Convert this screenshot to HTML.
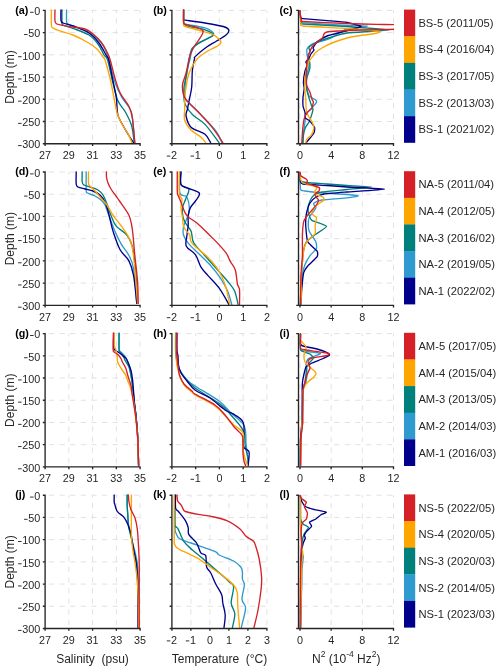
<!DOCTYPE html><html><head><meta charset="utf-8"><style>html,body{margin:0;padding:0;background:#fff;width:500px;height:671px;overflow:hidden}svg{display:block;will-change:transform}</style></head><body>
<svg width="500" height="671" viewBox="0 0 500 671" style="font-family:'Liberation Sans', sans-serif">
<path d="M68.85,143.70V10.40 M92.60,143.70V10.40 M116.35,143.70V10.40 M140.10,143.70V10.40" stroke="#e2e2e2" stroke-width="1" stroke-dasharray="5.3,5.3" stroke-dashoffset="7.1" fill="none"/>
<path d="M45.10,10.40H140.10 M45.10,32.62H140.10 M45.10,54.83H140.10 M45.10,77.05H140.10 M45.10,99.27H140.10 M45.10,121.48H140.10" stroke="#e2e2e2" stroke-width="1" stroke-dasharray="5.3,5.3" stroke-dashoffset="6.8" fill="none"/>
<clipPath id="cpa"><rect x="45.10" y="9.40" width="95.50" height="134.30"/></clipPath><g clip-path="url(#cpa)">
<path d="M66.60,9.00 C66.60,11.00 66.37,18.50 66.60,21.00 C66.83,23.50 65.93,22.83 68.00,24.00 C70.07,25.17 75.17,26.33 79.00,28.00 C82.83,29.67 87.00,31.17 91.00,34.00 C95.00,36.83 100.03,40.67 103.00,45.00 C105.97,49.33 106.77,53.70 108.80,60.00 C110.83,66.30 113.07,76.67 115.20,82.80 C117.33,88.93 119.48,93.00 121.60,96.80 C123.72,100.60 126.22,102.87 127.90,105.60 C129.58,108.33 130.75,109.17 131.70,113.20 C132.65,117.23 133.08,124.90 133.60,129.80 C134.12,134.70 134.60,140.47 134.80,142.60" stroke="#2E9AD0" stroke-width="1.35" fill="none" stroke-linejoin="round" stroke-linecap="round"/>
<path d="M62.00,9.00 C62.00,11.00 61.83,18.33 62.00,21.00 C62.17,23.67 61.17,23.77 63.00,25.00 C64.83,26.23 68.67,26.73 73.00,28.40 C77.33,30.07 84.83,32.40 89.00,35.00 C93.17,37.60 95.50,40.67 98.00,44.00 C100.50,47.33 102.40,52.33 104.00,55.00 C105.60,57.67 106.17,55.57 107.60,60.00 C109.03,64.43 110.90,74.83 112.60,81.60 C114.30,88.37 115.67,95.53 117.80,100.60 C119.93,105.67 123.08,107.77 125.40,112.00 C127.72,116.23 130.23,120.90 131.70,126.00 C133.17,131.10 133.78,139.83 134.20,142.60" stroke="#00807C" stroke-width="1.35" fill="none" stroke-linejoin="round" stroke-linecap="round"/>
<path d="M61.00,9.00 C61.00,10.83 60.67,17.67 61.00,20.00 C61.33,22.33 61.00,22.00 63.00,23.00 C65.00,24.00 68.67,24.33 73.00,26.00 C77.33,27.67 84.67,30.17 89.00,33.00 C93.33,35.83 96.17,39.33 99.00,43.00 C101.83,46.67 104.37,52.17 106.00,55.00 C107.63,57.83 107.70,56.00 108.80,60.00 C109.90,64.00 111.33,72.67 112.60,79.00 C113.87,85.33 115.53,92.07 116.40,98.00 C117.27,103.93 116.53,109.73 117.80,114.60 C119.07,119.47 122.10,123.63 124.00,127.20 C125.90,130.77 127.63,133.43 129.20,136.00 C130.77,138.57 132.70,141.50 133.40,142.60" stroke="#00008C" stroke-width="1.35" fill="none" stroke-linejoin="round" stroke-linecap="round"/>
<path d="M51.40,9.00 C51.40,11.67 51.13,21.83 51.40,25.00 C51.67,28.17 51.73,27.07 53.00,28.00 C54.27,28.93 55.67,29.43 59.00,30.60 C62.33,31.77 68.33,33.10 73.00,35.00 C77.67,36.90 83.00,39.67 87.00,42.00 C91.00,44.33 94.33,46.50 97.00,49.00 C99.67,51.50 101.67,55.17 103.00,57.00 C104.33,58.83 103.80,56.33 105.00,60.00 C106.20,63.67 108.70,72.67 110.20,79.00 C111.70,85.33 112.85,92.30 114.00,98.00 C115.15,103.70 115.85,108.97 117.12,113.20 C118.39,117.43 119.80,120.00 121.60,123.40 C123.40,126.80 126.17,130.40 127.90,133.60 C129.63,136.80 131.32,141.10 132.00,142.60" stroke="#FFA500" stroke-width="1.35" fill="none" stroke-linejoin="round" stroke-linecap="round"/>
<path d="M55.00,9.00 C55.00,11.00 54.67,18.50 55.00,21.00 C55.33,23.50 55.67,23.27 57.00,24.00 C58.33,24.73 60.33,24.90 63.00,25.40 C65.67,25.90 69.33,26.40 73.00,27.00 C76.67,27.60 81.67,27.83 85.00,29.00 C88.33,30.17 90.33,31.83 93.00,34.00 C95.67,36.17 98.67,39.00 101.00,42.00 C103.33,45.00 105.47,49.00 107.00,52.00 C108.53,55.00 108.83,55.50 110.20,60.00 C111.57,64.50 113.53,73.50 115.20,79.00 C116.87,84.50 117.87,88.33 120.20,93.00 C122.53,97.67 127.17,102.77 129.20,107.00 C131.23,111.23 131.47,112.47 132.40,118.40 C133.33,124.33 134.40,138.57 134.80,142.60" stroke="#D62027" stroke-width="1.35" fill="none" stroke-linejoin="round" stroke-linecap="round"/>
</g>
<path d="M45.10,10.40V143.70H140.10 M45.10,143.70V145.30 M68.85,143.70V145.30 M92.60,143.70V145.30 M116.35,143.70V145.30 M140.10,143.70V145.30 M43.50,10.40H45.10 M43.50,32.62H45.10 M43.50,54.83H45.10 M43.50,77.05H45.10 M43.50,99.27H45.10 M43.50,121.48H45.10 M43.50,143.70H45.10" stroke="#262626" stroke-width="1.35" fill="none" stroke-linecap="square"/>
<text x="45.10" y="158.90" font-size="10.8" fill="#262626" text-anchor="middle">27</text>
<text x="68.85" y="158.90" font-size="10.8" fill="#262626" text-anchor="middle">29</text>
<text x="92.60" y="158.90" font-size="10.8" fill="#262626" text-anchor="middle">31</text>
<text x="116.35" y="158.90" font-size="10.8" fill="#262626" text-anchor="middle">33</text>
<text x="140.10" y="158.90" font-size="10.8" fill="#262626" text-anchor="middle">35</text>
<text x="40.30" y="15.10" font-size="10.8" fill="#262626" text-anchor="end">0</text>
<path d="M30.10,12.30H33.60" stroke="#262626" stroke-width="0.95"/>
<text x="40.30" y="37.32" font-size="10.8" fill="#262626" text-anchor="end">50</text>
<path d="M24.09,34.52H27.59" stroke="#262626" stroke-width="0.95"/>
<text x="40.30" y="59.53" font-size="10.8" fill="#262626" text-anchor="end">100</text>
<path d="M18.09,56.73H21.59" stroke="#262626" stroke-width="0.95"/>
<text x="40.30" y="81.75" font-size="10.8" fill="#262626" text-anchor="end">150</text>
<path d="M18.09,78.95H21.59" stroke="#262626" stroke-width="0.95"/>
<text x="40.30" y="103.97" font-size="10.8" fill="#262626" text-anchor="end">200</text>
<path d="M18.09,101.17H21.59" stroke="#262626" stroke-width="0.95"/>
<text x="40.30" y="126.18" font-size="10.8" fill="#262626" text-anchor="end">250</text>
<path d="M18.09,123.38H21.59" stroke="#262626" stroke-width="0.95"/>
<text x="40.30" y="148.40" font-size="10.8" fill="#262626" text-anchor="end">300</text>
<path d="M18.09,145.60H21.59" stroke="#262626" stroke-width="0.95"/>
<text transform="translate(15.20 13.55) scale(0.914 1)" font-size="11.75" font-weight="bold" fill="#000">(a)</text>
<path d="M195.65,143.70V10.40 M219.40,143.70V10.40 M243.15,143.70V10.40 M266.90,143.70V10.40" stroke="#e2e2e2" stroke-width="1" stroke-dasharray="5.3,5.3" stroke-dashoffset="7.1" fill="none"/>
<path d="M171.90,10.40H266.90 M171.90,32.62H266.90 M171.90,54.83H266.90 M171.90,77.05H266.90 M171.90,99.27H266.90 M171.90,121.48H266.90" stroke="#e2e2e2" stroke-width="1" stroke-dasharray="5.3,5.3" stroke-dashoffset="6.8" fill="none"/>
<clipPath id="cpb"><rect x="171.90" y="9.40" width="95.50" height="134.30"/></clipPath><g clip-path="url(#cpb)">
<path d="M183.60,9.00 C183.60,11.13 183.47,19.40 183.60,21.80 C183.73,24.20 183.87,22.97 184.40,23.40 C184.93,23.83 183.37,23.65 186.80,24.40 C190.23,25.15 200.80,26.73 205.00,27.90 C209.20,29.07 210.60,30.23 212.00,31.40 C213.40,32.57 214.10,33.73 213.40,34.90 C212.70,36.07 210.37,37.00 207.80,38.40 C205.23,39.80 200.57,41.43 198.00,43.30 C195.43,45.17 193.73,46.98 192.40,49.60 C191.07,52.22 190.93,55.10 190.00,59.00 C189.07,62.90 187.68,66.70 186.80,73.00 C185.92,79.30 184.47,91.97 184.70,96.80 C184.93,101.63 185.52,99.03 188.20,102.00 C190.88,104.97 196.13,109.70 200.80,114.60 C205.47,119.50 212.70,126.73 216.20,131.40 C219.70,136.07 220.87,140.73 221.80,142.60" stroke="#2E9AD0" stroke-width="1.35" fill="none" stroke-linejoin="round" stroke-linecap="round"/>
<path d="M183.60,9.00 C183.60,11.20 183.47,19.67 183.60,22.20 C183.73,24.73 183.63,23.48 184.40,24.20 C185.17,24.92 185.00,25.65 188.20,26.50 C191.40,27.35 199.52,28.13 203.60,29.30 C207.68,30.47 211.30,32.33 212.70,33.50 C214.10,34.67 213.28,35.25 212.00,36.30 C210.72,37.35 207.57,38.40 205.00,39.80 C202.43,41.20 198.93,42.83 196.60,44.70 C194.27,46.57 192.63,46.28 191.00,51.00 C189.37,55.72 187.97,67.00 186.80,73.00 C185.63,79.00 184.47,82.80 184.00,87.00 C183.53,91.20 183.77,95.23 184.00,98.20 C184.23,101.17 184.00,102.07 185.40,104.80 C186.80,107.53 189.13,111.33 192.40,114.60 C195.67,117.87 200.57,119.73 205.00,124.40 C209.43,129.07 216.67,139.57 219.00,142.60" stroke="#00807C" stroke-width="1.35" fill="none" stroke-linejoin="round" stroke-linecap="round"/>
<path d="M183.60,9.00 C183.60,10.67 183.53,17.17 183.60,19.00 C183.67,20.83 183.70,19.80 184.00,20.00 C184.30,20.20 181.90,19.70 185.40,20.20 C188.90,20.70 198.70,21.95 205.00,23.00 C211.30,24.05 219.23,25.33 223.20,26.50 C227.17,27.67 228.33,28.58 228.80,30.00 C229.27,31.42 228.10,33.13 226.00,35.00 C223.90,36.87 219.70,39.00 216.20,41.20 C212.70,43.40 208.50,45.63 205.00,48.20 C201.50,50.77 196.95,54.80 195.20,56.60 C193.45,58.40 194.97,56.73 194.50,59.00 C194.03,61.27 192.87,65.53 192.40,70.20 C191.93,74.87 192.17,82.33 191.70,87.00 C191.23,91.67 190.18,95.17 189.60,98.20 C189.02,101.23 188.55,103.40 188.20,105.20 C187.85,107.00 187.85,107.20 187.50,109.00 C187.15,110.80 185.52,112.97 186.10,116.00 C186.68,119.03 187.85,124.17 191.00,127.20 C194.15,130.23 201.73,131.63 205.00,134.20 C208.27,136.77 209.67,141.20 210.60,142.60" stroke="#00008C" stroke-width="1.35" fill="none" stroke-linejoin="round" stroke-linecap="round"/>
<path d="M183.60,9.00 C183.60,11.50 183.53,21.27 183.60,24.00 C183.67,26.73 183.70,24.98 184.00,25.40 C184.30,25.82 183.07,25.73 185.40,26.50 C187.73,27.27 193.57,28.72 198.00,30.00 C202.43,31.28 208.50,32.70 212.00,34.20 C215.50,35.70 217.50,37.60 219.00,39.00 C220.50,40.40 221.23,41.43 221.00,42.60 C220.77,43.77 219.80,44.60 217.60,46.00 C215.40,47.40 211.07,49.00 207.80,51.00 C204.53,53.00 200.57,55.50 198.00,58.00 C195.43,60.50 194.03,63.03 192.40,66.00 C190.77,68.97 189.25,72.30 188.20,75.80 C187.15,79.30 186.68,83.27 186.10,87.00 C185.52,90.73 184.93,94.53 184.70,98.20 C184.47,101.87 184.70,105.33 184.70,109.00 C184.70,112.67 183.65,116.70 184.70,120.20 C185.75,123.70 188.32,127.20 191.00,130.00 C193.68,132.80 198.35,134.90 200.80,137.00 C203.25,139.10 204.88,141.67 205.70,142.60" stroke="#FFA500" stroke-width="1.35" fill="none" stroke-linejoin="round" stroke-linecap="round"/>
<path d="M183.60,9.00 C183.60,11.13 183.53,19.40 183.60,21.80 C183.67,24.20 183.70,22.97 184.00,23.40 C184.30,23.83 183.07,23.65 185.40,24.40 C187.73,25.15 195.08,26.85 198.00,27.90 C200.92,28.95 202.20,29.65 202.90,30.70 C203.60,31.75 203.02,32.45 202.20,34.20 C201.38,35.95 199.52,38.87 198.00,41.20 C196.48,43.53 194.50,45.63 193.10,48.20 C191.70,50.77 190.77,52.47 189.60,56.60 C188.43,60.73 187.27,68.40 186.10,73.00 C184.93,77.60 183.07,80.70 182.60,84.20 C182.13,87.70 182.60,91.27 183.30,94.00 C184.00,96.73 184.35,97.63 186.80,100.60 C189.25,103.57 193.80,107.37 198.00,111.80 C202.20,116.23 207.87,122.07 212.00,127.20 C216.13,132.33 221.00,140.03 222.80,142.60" stroke="#D62027" stroke-width="1.35" fill="none" stroke-linejoin="round" stroke-linecap="round"/>
</g>
<path d="M171.90,10.40V143.70H266.90 M171.90,143.70V145.30 M195.65,143.70V145.30 M219.40,143.70V145.30 M243.15,143.70V145.30 M266.90,143.70V145.30 M170.30,10.40H171.90 M170.30,32.62H171.90 M170.30,54.83H171.90 M170.30,77.05H171.90 M170.30,99.27H171.90 M170.30,121.48H171.90 M170.30,143.70H171.90" stroke="#262626" stroke-width="1.35" fill="none" stroke-linecap="square"/>
<path d="M166.80,156.10H170.30" stroke="#262626" stroke-width="0.95"/>
<text x="171.00" y="158.90" font-size="10.8" fill="#262626">2</text>
<path d="M190.55,156.10H194.05" stroke="#262626" stroke-width="0.95"/>
<text x="194.75" y="158.90" font-size="10.8" fill="#262626">1</text>
<text x="219.40" y="158.90" font-size="10.8" fill="#262626" text-anchor="middle">0</text>
<text x="243.15" y="158.90" font-size="10.8" fill="#262626" text-anchor="middle">1</text>
<text x="266.90" y="158.90" font-size="10.8" fill="#262626" text-anchor="middle">2</text>
<text transform="translate(153.20 13.55) scale(0.914 1)" font-size="11.75" font-weight="bold" fill="#000">(b)</text>
<path d="M299.98,143.70V10.40 M331.15,143.70V10.40 M362.33,143.70V10.40 M393.50,143.70V10.40" stroke="#e2e2e2" stroke-width="1" stroke-dasharray="5.3,5.3" stroke-dashoffset="7.1" fill="none"/>
<path d="M298.50,10.40H393.50 M298.50,32.62H393.50 M298.50,54.83H393.50 M298.50,77.05H393.50 M298.50,99.27H393.50 M298.50,121.48H393.50" stroke="#e2e2e2" stroke-width="1" stroke-dasharray="5.3,5.3" stroke-dashoffset="6.8" fill="none"/>
<clipPath id="cpc"><rect x="298.50" y="9.40" width="95.50" height="134.30"/></clipPath><g clip-path="url(#cpc)">
<path d="M300.00,11.00 C300.05,11.58 300.48,17.17 300.60,18.00 C300.72,18.83 301.20,20.62 301.40,21.00 C301.60,21.38 299.20,22.23 303.00,22.60 C306.80,22.97 341.58,25.12 347.00,25.40 C352.42,25.68 368.00,25.70 368.00,26.00 C368.00,26.30 349.25,28.50 347.00,29.00 C344.75,29.50 342.50,31.17 341.00,32.00 C339.50,32.83 331.42,38.00 329.00,39.00 C326.58,40.00 313.83,43.17 312.00,44.00 C310.17,44.83 307.42,48.17 307.00,49.00 C306.58,49.83 306.83,52.63 307.00,54.00 C307.17,55.37 309.00,63.78 309.00,65.40 C309.00,67.02 307.20,71.60 307.00,73.40 C306.80,75.20 306.43,85.13 306.60,87.00 C306.77,88.87 308.27,94.73 309.00,95.80 C309.73,96.87 314.77,99.28 315.40,99.80 C316.03,100.32 316.87,101.35 316.60,102.00 C316.33,102.65 313.10,106.60 312.20,107.60 C311.30,108.60 306.40,112.80 305.80,114.00 C305.20,115.20 305.20,120.42 305.00,122.00 C304.80,123.58 303.60,131.25 303.40,133.00 C303.20,134.75 302.67,142.17 302.60,143.00" stroke="#2E9AD0" stroke-width="1.35" fill="none" stroke-linejoin="round" stroke-linecap="round"/>
<path d="M300.00,11.00 C300.05,11.67 300.52,18.00 300.60,19.00 C300.68,20.00 300.80,22.58 301.00,23.00 C301.20,23.42 299.17,23.71 303.00,24.00 C306.83,24.29 339.83,26.00 347.00,26.50 C354.17,27.00 389.00,29.46 389.00,30.00 C389.00,30.54 351.75,32.42 347.00,33.00 C342.25,33.58 334.50,36.25 332.00,37.00 C329.50,37.75 318.92,41.17 317.00,42.00 C315.08,42.83 309.58,46.17 309.00,47.00 C308.42,47.83 310.07,51.33 310.00,52.00 C309.93,52.67 308.22,54.08 308.20,55.00 C308.18,55.92 309.67,61.87 309.80,63.00 C309.93,64.13 310.07,67.27 309.80,68.60 C309.53,69.93 306.87,77.33 306.60,79.00 C306.33,80.67 306.47,87.27 306.60,88.60 C306.73,89.93 308.00,94.22 308.20,95.00 C308.40,95.78 308.73,97.15 309.00,98.00 C309.27,98.85 311.07,104.27 311.40,105.20 C311.73,106.13 313.00,108.33 313.00,109.20 C313.00,110.07 311.73,114.53 311.40,115.60 C311.07,116.67 309.53,120.93 309.00,122.00 C308.47,123.07 305.47,127.27 305.00,128.40 C304.53,129.53 303.57,134.38 303.40,135.60 C303.23,136.82 303.03,142.38 303.00,143.00" stroke="#00807C" stroke-width="1.35" fill="none" stroke-linejoin="round" stroke-linecap="round"/>
<path d="M300.00,11.00 C300.03,11.33 300.32,14.42 300.40,15.00 C300.48,15.58 300.78,17.70 301.00,18.00 C301.22,18.30 300.83,18.38 303.00,18.60 C305.17,18.82 323.33,20.28 327.00,20.60 C330.67,20.93 344.17,22.02 347.00,22.50 C349.83,22.98 360.50,25.86 361.00,26.40 C361.50,26.94 354.58,28.53 353.00,29.00 C351.42,29.47 344.17,31.42 342.00,32.00 C339.83,32.58 329.08,35.17 327.00,36.00 C324.92,36.83 318.17,41.00 317.00,42.00 C315.83,43.00 313.25,47.33 313.00,48.00 C312.75,48.67 314.17,49.50 314.00,50.00 C313.83,50.50 311.42,53.33 311.00,54.00 C310.58,54.67 309.43,57.32 309.00,58.00 C308.57,58.68 305.93,61.65 305.80,62.20 C305.67,62.75 307.47,63.87 307.40,64.60 C307.33,65.33 305.33,69.53 305.00,71.00 C304.67,72.47 303.47,80.73 303.40,82.20 C303.33,83.67 304.23,87.33 304.20,88.60 C304.17,89.87 303.10,95.95 303.00,97.40 C302.90,98.85 302.83,104.75 303.00,106.00 C303.17,107.25 304.80,111.40 305.00,112.40 C305.20,113.40 305.07,117.33 305.40,118.00 C305.73,118.67 308.23,119.60 309.00,120.40 C309.77,121.20 314.20,126.53 314.60,127.60 C315.00,128.67 314.40,132.07 313.80,133.20 C313.20,134.33 308.03,140.38 307.40,141.20 C306.77,142.02 306.30,142.85 306.20,143.00" stroke="#00008C" stroke-width="1.35" fill="none" stroke-linejoin="round" stroke-linecap="round"/>
<path d="M300.00,11.00 C300.05,11.75 300.52,18.92 300.60,20.00 C300.68,21.08 300.80,23.50 301.00,24.00 C301.20,24.50 299.17,25.62 303.00,26.00 C306.83,26.38 340.67,28.04 347.00,28.50 C353.33,28.96 376.67,31.08 379.00,31.50 C381.33,31.92 376.83,33.12 375.00,33.50 C373.17,33.88 359.33,35.62 357.00,36.00 C354.67,36.38 349.08,37.42 347.00,38.00 C344.92,38.58 334.08,42.17 332.00,43.00 C329.92,43.83 323.42,47.17 322.00,48.00 C320.58,48.83 315.68,52.42 315.00,53.00 C314.32,53.58 314.30,54.30 313.80,55.00 C313.30,55.70 309.60,60.20 309.00,61.40 C308.40,62.60 306.97,67.73 306.60,69.40 C306.23,71.07 304.73,79.60 304.60,81.40 C304.47,83.20 304.90,89.47 305.00,91.00 C305.10,92.53 305.70,98.22 305.80,99.80 C305.90,101.38 306.00,108.68 306.20,110.00 C306.40,111.32 307.70,114.60 308.20,115.60 C308.70,116.60 311.73,120.93 312.20,122.00 C312.67,123.07 313.87,127.33 313.80,128.40 C313.73,129.47 312.00,133.87 311.40,134.80 C310.80,135.73 307.07,138.92 306.60,139.60 C306.13,140.28 305.87,142.72 305.80,143.00" stroke="#FFA500" stroke-width="1.35" fill="none" stroke-linejoin="round" stroke-linecap="round"/>
<path d="M300.00,11.00 C300.05,11.50 300.48,16.21 300.60,17.00 C300.73,17.79 301.30,20.12 301.50,20.50 C301.70,20.88 299.21,21.25 303.00,21.50 C306.79,21.75 340.83,23.26 347.00,23.50 C353.17,23.74 372.33,24.27 377.00,24.40 C381.67,24.52 400.83,24.63 403.00,25.00 C405.17,25.37 405.17,28.42 403.00,28.80 C400.83,29.18 381.67,29.46 377.00,29.60 C372.33,29.74 350.17,30.38 347.00,30.50 C343.83,30.62 340.67,30.88 339.00,31.00 C337.33,31.12 328.25,31.75 327.00,32.00 C325.75,32.25 324.38,33.50 324.00,34.00 C323.62,34.50 323.08,37.33 322.50,38.00 C321.92,38.67 317.88,41.25 317.00,42.00 C316.12,42.75 312.67,46.00 312.00,47.00 C311.33,48.00 309.42,52.67 309.00,54.00 C308.58,55.33 307.23,61.25 307.00,63.00 C306.77,64.75 306.23,73.13 306.20,75.00 C306.17,76.87 306.30,84.00 306.60,85.40 C306.90,86.80 309.33,90.60 309.80,91.80 C310.27,93.00 311.90,98.95 312.20,99.80 C312.50,100.65 313.43,101.28 313.40,102.00 C313.37,102.72 312.30,107.53 311.80,108.40 C311.30,109.27 308.03,111.53 307.40,112.40 C306.77,113.27 304.60,117.33 304.20,118.80 C303.80,120.27 302.80,127.98 302.60,130.00 C302.40,132.02 301.87,141.92 301.80,143.00" stroke="#D62027" stroke-width="1.35" fill="none" stroke-linejoin="round" stroke-linecap="round"/>
</g>
<path d="M298.50,10.40V143.70H393.50 M299.98,143.70V145.30 M331.15,143.70V145.30 M362.33,143.70V145.30 M393.50,143.70V145.30 M296.90,10.40H298.50 M296.90,32.62H298.50 M296.90,54.83H298.50 M296.90,77.05H298.50 M296.90,99.27H298.50 M296.90,121.48H298.50 M296.90,143.70H298.50" stroke="#262626" stroke-width="1.35" fill="none" stroke-linecap="square"/>
<text x="299.98" y="158.90" font-size="10.8" fill="#262626" text-anchor="middle">0</text>
<text x="331.15" y="158.90" font-size="10.8" fill="#262626" text-anchor="middle">4</text>
<text x="362.33" y="158.90" font-size="10.8" fill="#262626" text-anchor="middle">8</text>
<text x="393.50" y="158.90" font-size="10.8" fill="#262626" text-anchor="middle">12</text>
<text transform="translate(279.50 13.55) scale(0.914 1)" font-size="11.75" font-weight="bold" fill="#000">(c)</text>
<text x="13.6" y="77.05" font-size="12" fill="#262626" text-anchor="middle" transform="rotate(-90 13.6 77.05)">Depth (m)</text>
<rect x="404" y="9.60" width="11.2" height="26.94" fill="#D62027"/>
<text x="418.4" y="26.82" font-size="11.2" fill="#262626">BS-5 (2011/05)</text>
<rect x="404" y="36.24" width="11.2" height="26.94" fill="#FFA500"/>
<text x="418.4" y="53.46" font-size="11.2" fill="#262626">BS-4 (2016/04)</text>
<rect x="404" y="62.88" width="11.2" height="26.94" fill="#00807C"/>
<text x="418.4" y="80.10" font-size="11.2" fill="#262626">BS-3 (2017/05)</text>
<rect x="404" y="89.52" width="11.2" height="26.94" fill="#2E9AD0"/>
<text x="418.4" y="106.74" font-size="11.2" fill="#262626">BS-2 (2013/03)</text>
<rect x="404" y="116.16" width="11.2" height="26.64" fill="#00008C"/>
<text x="418.4" y="133.38" font-size="11.2" fill="#262626">BS-1 (2021/02)</text>
<path d="M68.85,305.30V172.00 M92.60,305.30V172.00 M116.35,305.30V172.00 M140.10,305.30V172.00" stroke="#e2e2e2" stroke-width="1" stroke-dasharray="5.3,5.3" stroke-dashoffset="7.1" fill="none"/>
<path d="M45.10,172.00H140.10 M45.10,194.22H140.10 M45.10,216.43H140.10 M45.10,238.65H140.10 M45.10,260.87H140.10 M45.10,283.08H140.10" stroke="#e2e2e2" stroke-width="1" stroke-dasharray="5.3,5.3" stroke-dashoffset="6.8" fill="none"/>
<clipPath id="cpd"><rect x="45.10" y="171.00" width="95.50" height="134.30"/></clipPath><g clip-path="url(#cpd)">
<path d="M86.20,171.80 C86.20,174.83 85.98,186.47 86.20,190.00 C86.42,193.53 86.03,192.00 87.50,193.00 C88.97,194.00 92.75,194.83 95.00,196.00 C97.25,197.17 99.33,198.50 101.00,200.00 C102.67,201.50 103.72,202.50 105.00,205.00 C106.28,207.50 107.07,210.67 108.70,215.00 C110.33,219.33 112.68,226.10 114.80,231.00 C116.92,235.90 119.07,240.37 121.40,244.40 C123.73,248.43 126.78,251.17 128.80,255.20 C130.82,259.23 132.17,260.57 133.50,268.60 C134.83,276.63 136.25,297.60 136.80,303.40" stroke="#2E9AD0" stroke-width="1.35" fill="none" stroke-linejoin="round" stroke-linecap="round"/>
<path d="M82.20,171.80 C82.20,173.50 81.90,179.80 82.20,182.00 C82.50,184.20 82.70,184.17 84.00,185.00 C85.30,185.83 87.67,186.17 90.00,187.00 C92.33,187.83 95.83,188.67 98.00,190.00 C100.17,191.33 101.50,192.67 103.00,195.00 C104.50,197.33 105.70,200.67 107.00,204.00 C108.30,207.33 109.30,211.37 110.80,215.00 C112.30,218.63 113.33,222.47 116.00,225.80 C118.67,229.13 124.10,231.67 126.80,235.00 C129.50,238.33 130.75,240.20 132.20,245.80 C133.65,251.40 134.60,259.00 135.50,268.60 C136.40,278.20 137.25,297.60 137.60,303.40" stroke="#00807C" stroke-width="1.35" fill="none" stroke-linejoin="round" stroke-linecap="round"/>
<path d="M76.20,171.80 C76.20,173.83 75.90,181.47 76.20,184.00 C76.50,186.53 76.53,186.17 78.00,187.00 C79.47,187.83 82.50,188.33 85.00,189.00 C87.50,189.67 90.50,190.00 93.00,191.00 C95.50,192.00 98.00,193.17 100.00,195.00 C102.00,196.83 103.67,199.33 105.00,202.00 C106.33,204.67 107.17,208.17 108.00,211.00 C108.83,213.83 109.10,215.43 110.00,219.00 C110.90,222.57 111.72,227.27 113.40,232.40 C115.08,237.53 117.53,245.10 120.10,249.80 C122.67,254.50 126.57,256.37 128.80,260.60 C131.03,264.83 132.17,268.07 133.50,275.20 C134.83,282.33 136.25,298.70 136.80,303.40" stroke="#00008C" stroke-width="1.35" fill="none" stroke-linejoin="round" stroke-linecap="round"/>
<path d="M88.50,171.80 C88.50,173.67 88.25,180.63 88.50,183.00 C88.75,185.37 88.92,184.67 90.00,186.00 C91.08,187.33 93.33,189.17 95.00,191.00 C96.67,192.83 98.00,194.67 100.00,197.00 C102.00,199.33 104.87,202.00 107.00,205.00 C109.13,208.00 110.62,211.77 112.80,215.00 C114.98,218.23 117.53,220.83 120.10,224.40 C122.67,227.97 126.18,232.60 128.20,236.40 C130.22,240.20 131.10,241.83 132.20,247.20 C133.30,252.57 133.90,259.23 134.80,268.60 C135.70,277.97 137.13,297.60 137.60,303.40" stroke="#FFA500" stroke-width="1.35" fill="none" stroke-linejoin="round" stroke-linecap="round"/>
<path d="M106.50,171.80 C106.50,172.67 106.25,175.13 106.50,177.00 C106.75,178.87 107.25,181.00 108.00,183.00 C108.75,185.00 109.67,186.83 111.00,189.00 C112.33,191.17 114.58,194.00 116.00,196.00 C117.42,198.00 117.37,197.83 119.50,201.00 C121.63,204.17 126.68,210.43 128.80,215.00 C130.92,219.57 131.20,221.70 132.20,228.40 C133.20,235.10 133.90,246.27 134.80,255.20 C135.70,264.13 137.03,273.97 137.60,282.00 C138.17,290.03 138.10,299.83 138.20,303.40" stroke="#D62027" stroke-width="1.35" fill="none" stroke-linejoin="round" stroke-linecap="round"/>
</g>
<path d="M45.10,172.00V305.30H140.10 M45.10,305.30V306.90 M68.85,305.30V306.90 M92.60,305.30V306.90 M116.35,305.30V306.90 M140.10,305.30V306.90 M43.50,172.00H45.10 M43.50,194.22H45.10 M43.50,216.43H45.10 M43.50,238.65H45.10 M43.50,260.87H45.10 M43.50,283.08H45.10 M43.50,305.30H45.10" stroke="#262626" stroke-width="1.35" fill="none" stroke-linecap="square"/>
<text x="45.10" y="320.50" font-size="10.8" fill="#262626" text-anchor="middle">27</text>
<text x="68.85" y="320.50" font-size="10.8" fill="#262626" text-anchor="middle">29</text>
<text x="92.60" y="320.50" font-size="10.8" fill="#262626" text-anchor="middle">31</text>
<text x="116.35" y="320.50" font-size="10.8" fill="#262626" text-anchor="middle">33</text>
<text x="140.10" y="320.50" font-size="10.8" fill="#262626" text-anchor="middle">35</text>
<text x="40.30" y="176.70" font-size="10.8" fill="#262626" text-anchor="end">0</text>
<path d="M30.10,173.90H33.60" stroke="#262626" stroke-width="0.95"/>
<text x="40.30" y="198.92" font-size="10.8" fill="#262626" text-anchor="end">50</text>
<path d="M24.09,196.12H27.59" stroke="#262626" stroke-width="0.95"/>
<text x="40.30" y="221.13" font-size="10.8" fill="#262626" text-anchor="end">100</text>
<path d="M18.09,218.33H21.59" stroke="#262626" stroke-width="0.95"/>
<text x="40.30" y="243.35" font-size="10.8" fill="#262626" text-anchor="end">150</text>
<path d="M18.09,240.55H21.59" stroke="#262626" stroke-width="0.95"/>
<text x="40.30" y="265.57" font-size="10.8" fill="#262626" text-anchor="end">200</text>
<path d="M18.09,262.77H21.59" stroke="#262626" stroke-width="0.95"/>
<text x="40.30" y="287.78" font-size="10.8" fill="#262626" text-anchor="end">250</text>
<path d="M18.09,284.98H21.59" stroke="#262626" stroke-width="0.95"/>
<text x="40.30" y="310.00" font-size="10.8" fill="#262626" text-anchor="end">300</text>
<path d="M18.09,307.20H21.59" stroke="#262626" stroke-width="0.95"/>
<text transform="translate(15.20 175.15) scale(0.914 1)" font-size="11.75" font-weight="bold" fill="#000">(d)</text>
<path d="M195.65,305.30V172.00 M219.40,305.30V172.00 M243.15,305.30V172.00 M266.90,305.30V172.00" stroke="#e2e2e2" stroke-width="1" stroke-dasharray="5.3,5.3" stroke-dashoffset="7.1" fill="none"/>
<path d="M171.90,172.00H266.90 M171.90,194.22H266.90 M171.90,216.43H266.90 M171.90,238.65H266.90 M171.90,260.87H266.90 M171.90,283.08H266.90" stroke="#e2e2e2" stroke-width="1" stroke-dasharray="5.3,5.3" stroke-dashoffset="6.8" fill="none"/>
<clipPath id="cpe"><rect x="171.90" y="171.00" width="95.50" height="134.30"/></clipPath><g clip-path="url(#cpe)">
<path d="M179.92,172.00 C179.92,175.50 178.79,188.83 179.92,193.00 C181.05,197.17 185.13,194.23 186.70,197.00 C188.27,199.77 189.32,205.93 189.32,209.60 C189.32,213.27 187.65,216.20 186.70,219.00 C185.75,221.80 184.13,223.73 183.60,226.40 C183.07,229.07 182.70,232.17 183.50,235.00 C184.30,237.83 185.72,240.13 188.40,243.40 C191.08,246.67 195.87,250.87 199.60,254.60 C203.33,258.33 207.30,261.83 210.80,265.80 C214.30,269.77 217.80,274.20 220.60,278.40 C223.40,282.60 225.73,286.63 227.60,291.00 C229.47,295.37 231.10,302.33 231.80,304.60" stroke="#2E9AD0" stroke-width="1.35" fill="none" stroke-linejoin="round" stroke-linecap="round"/>
<path d="M181.00,172.00 C181.00,174.10 179.70,181.73 181.00,184.60 C182.30,187.47 188.03,186.77 188.80,189.20 C189.57,191.63 186.65,196.13 185.60,199.20 C184.55,202.27 182.95,204.63 182.52,207.60 C182.09,210.57 182.49,214.40 183.00,217.00 C183.51,219.60 184.30,220.93 185.60,223.20 C186.90,225.47 189.75,228.63 190.80,230.60 C191.85,232.57 191.37,232.87 191.90,235.00 C192.43,237.13 191.78,239.90 194.00,243.40 C196.22,246.90 201.47,251.80 205.20,256.00 C208.93,260.20 212.67,264.40 216.40,268.60 C220.13,272.80 224.57,277.47 227.60,281.20 C230.63,284.93 232.85,287.10 234.60,291.00 C236.35,294.90 237.52,302.33 238.10,304.60" stroke="#00807C" stroke-width="1.35" fill="none" stroke-linejoin="round" stroke-linecap="round"/>
<path d="M181.00,172.00 C181.00,174.10 179.87,181.90 181.00,184.60 C182.13,187.30 184.77,186.80 187.80,188.20 C190.83,189.60 197.82,191.00 199.20,193.00 C200.58,195.00 197.57,197.77 196.10,200.20 C194.63,202.63 191.72,205.00 190.40,207.60 C189.08,210.20 188.57,212.87 188.20,215.80 C187.83,218.73 188.40,222.00 188.20,225.20 C188.00,228.40 187.32,231.50 187.00,235.00 C186.68,238.50 184.90,242.93 186.30,246.20 C187.70,249.47 192.95,251.10 195.40,254.60 C197.85,258.10 198.90,263.70 201.00,267.20 C203.10,270.70 204.97,272.10 208.00,275.60 C211.03,279.10 215.70,283.37 219.20,288.20 C222.70,293.03 227.37,301.87 229.00,304.60" stroke="#00008C" stroke-width="1.35" fill="none" stroke-linejoin="round" stroke-linecap="round"/>
<path d="M179.40,172.00 C179.40,175.67 178.97,189.47 179.40,194.00 C179.83,198.53 181.73,196.93 182.00,199.20 C182.27,201.47 180.91,204.47 181.00,207.60 C181.09,210.73 182.09,214.87 182.52,218.00 C182.95,221.13 182.72,223.97 183.60,226.40 C184.48,228.83 186.77,231.17 187.80,232.60 C188.83,234.03 189.23,233.43 189.80,235.00 C190.37,236.57 189.80,239.67 191.20,242.00 C192.60,244.33 195.40,246.43 198.20,249.00 C201.00,251.57 204.97,254.37 208.00,257.40 C211.03,260.43 214.07,263.93 216.40,267.20 C218.73,270.47 220.37,273.50 222.00,277.00 C223.63,280.50 224.92,283.60 226.20,288.20 C227.48,292.80 229.12,301.87 229.70,304.60" stroke="#FFA500" stroke-width="1.35" fill="none" stroke-linejoin="round" stroke-linecap="round"/>
<path d="M177.30,172.00 C177.30,175.30 177.12,187.80 177.30,191.80 C177.48,195.80 177.70,194.07 178.40,196.00 C179.10,197.93 180.47,200.77 181.50,203.40 C182.53,206.03 183.48,209.53 184.60,211.80 C185.72,214.07 186.10,215.10 188.20,217.00 C190.30,218.90 193.67,220.20 197.20,223.20 C200.73,226.20 205.97,231.63 209.40,235.00 C212.83,238.37 215.00,240.37 217.80,243.40 C220.60,246.43 224.10,250.17 226.20,253.20 C228.30,256.23 228.88,258.80 230.40,261.60 C231.92,264.40 234.13,266.27 235.30,270.00 C236.47,273.73 236.70,280.73 237.40,284.00 C238.10,287.27 239.15,286.17 239.50,289.60 C239.85,293.03 239.50,302.10 239.50,304.60" stroke="#D62027" stroke-width="1.35" fill="none" stroke-linejoin="round" stroke-linecap="round"/>
</g>
<path d="M171.90,172.00V305.30H266.90 M171.90,305.30V306.90 M195.65,305.30V306.90 M219.40,305.30V306.90 M243.15,305.30V306.90 M266.90,305.30V306.90 M170.30,172.00H171.90 M170.30,194.22H171.90 M170.30,216.43H171.90 M170.30,238.65H171.90 M170.30,260.87H171.90 M170.30,283.08H171.90 M170.30,305.30H171.90" stroke="#262626" stroke-width="1.35" fill="none" stroke-linecap="square"/>
<path d="M166.80,317.70H170.30" stroke="#262626" stroke-width="0.95"/>
<text x="171.00" y="320.50" font-size="10.8" fill="#262626">2</text>
<path d="M190.55,317.70H194.05" stroke="#262626" stroke-width="0.95"/>
<text x="194.75" y="320.50" font-size="10.8" fill="#262626">1</text>
<text x="219.40" y="320.50" font-size="10.8" fill="#262626" text-anchor="middle">0</text>
<text x="243.15" y="320.50" font-size="10.8" fill="#262626" text-anchor="middle">1</text>
<text x="266.90" y="320.50" font-size="10.8" fill="#262626" text-anchor="middle">2</text>
<text transform="translate(153.20 175.15) scale(0.914 1)" font-size="11.75" font-weight="bold" fill="#000">(e)</text>
<path d="M299.98,305.30V172.00 M331.15,305.30V172.00 M362.33,305.30V172.00 M393.50,305.30V172.00" stroke="#e2e2e2" stroke-width="1" stroke-dasharray="5.3,5.3" stroke-dashoffset="7.1" fill="none"/>
<path d="M298.50,172.00H393.50 M298.50,194.22H393.50 M298.50,216.43H393.50 M298.50,238.65H393.50 M298.50,260.87H393.50 M298.50,283.08H393.50" stroke="#e2e2e2" stroke-width="1" stroke-dasharray="5.3,5.3" stroke-dashoffset="6.8" fill="none"/>
<clipPath id="cpf"><rect x="298.50" y="171.00" width="95.50" height="134.30"/></clipPath><g clip-path="url(#cpf)">
<path d="M300.00,172.50 C300.04,173.92 300.08,187.96 300.50,189.50 C300.92,191.04 303.62,190.75 305.00,191.00 C306.38,191.25 313.50,192.21 317.00,192.50 C320.50,192.79 343.54,194.21 347.00,194.50 C350.46,194.79 358.50,195.72 358.50,196.00 C358.50,196.28 350.04,197.47 347.00,197.80 C343.96,198.13 324.75,199.57 322.00,200.00 C319.25,200.43 314.67,202.58 314.00,203.00 C313.33,203.42 313.83,204.67 314.00,205.00 C314.17,205.33 316.00,206.50 316.00,207.00 C316.00,207.50 314.50,210.25 314.00,211.00 C313.50,211.75 310.47,215.17 310.00,216.00 C309.53,216.83 308.48,219.74 308.40,221.00 C308.32,222.26 308.46,229.37 309.08,231.10 C309.70,232.83 315.19,240.35 315.80,241.80 C316.42,243.25 316.91,247.42 316.46,248.54 C316.01,249.66 311.35,253.86 310.40,255.20 C309.44,256.54 305.67,262.92 305.00,264.60 C304.33,266.28 302.73,272.03 302.40,275.40 C302.07,278.77 301.12,302.53 301.00,305.00" stroke="#2E9AD0" stroke-width="1.35" fill="none" stroke-linejoin="round" stroke-linecap="round"/>
<path d="M300.00,172.50 C300.04,173.21 299.92,180.17 300.50,181.00 C301.08,181.83 304.79,182.25 307.00,182.50 C309.21,182.75 323.67,183.75 327.00,184.00 C330.33,184.25 343.29,185.25 347.00,185.50 C350.71,185.75 371.50,186.67 371.50,187.00 C371.50,187.33 351.12,189.08 347.00,189.50 C342.88,189.92 324.75,191.54 322.00,192.00 C319.25,192.46 315.00,194.25 314.00,195.00 C313.00,195.75 310.50,199.92 310.00,201.00 C309.50,202.08 308.08,206.83 308.00,208.00 C307.92,209.17 308.68,213.97 309.00,215.00 C309.32,216.03 310.34,219.45 311.80,220.40 C313.26,221.35 326.30,225.17 326.52,226.40 C326.74,227.63 316.08,233.84 314.40,235.12 C312.72,236.40 307.29,240.57 306.40,241.80 C305.51,243.03 304.03,248.22 303.70,249.90 C303.37,251.58 302.62,259.32 302.40,262.00 C302.17,264.68 301.17,278.42 301.00,282.00 C300.83,285.58 300.45,303.08 300.40,305.00" stroke="#00807C" stroke-width="1.35" fill="none" stroke-linejoin="round" stroke-linecap="round"/>
<path d="M300.00,172.50 C300.04,173.29 300.25,181.04 300.50,182.00 C300.75,182.96 300.79,183.71 303.00,184.00 C305.21,184.29 323.33,185.25 327.00,185.50 C330.67,185.75 342.21,186.69 347.00,187.00 C351.79,187.31 384.50,188.78 384.50,189.20 C384.50,189.62 352.04,191.60 347.00,192.00 C341.96,192.40 326.58,193.58 324.00,194.00 C321.42,194.42 317.17,196.25 316.00,197.00 C314.83,197.75 310.75,201.83 310.00,203.00 C309.25,204.17 307.33,209.83 307.00,211.00 C306.67,212.17 306.11,215.77 306.00,217.00 C305.89,218.23 305.58,223.67 305.72,225.74 C305.87,227.81 306.79,239.68 307.74,241.80 C308.69,243.92 316.34,249.97 317.12,251.20 C317.90,252.43 317.90,255.37 317.12,256.60 C316.34,257.83 308.86,264.66 307.74,266.00 C306.62,267.34 304.20,270.80 303.70,272.70 C303.20,274.60 301.97,286.11 301.70,288.80 C301.43,291.49 300.51,303.65 300.40,305.00" stroke="#00008C" stroke-width="1.35" fill="none" stroke-linejoin="round" stroke-linecap="round"/>
<path d="M300.00,172.50 C300.04,173.04 300.25,178.12 300.50,179.00 C300.75,179.88 302.21,182.50 303.00,183.00 C303.79,183.50 308.83,184.62 310.00,185.00 C311.17,185.38 316.62,186.92 317.00,187.50 C317.38,188.08 314.50,191.38 314.50,192.00 C314.50,192.62 316.29,194.58 317.00,195.00 C317.71,195.42 322.42,196.58 323.00,197.00 C323.58,197.42 324.50,199.33 324.00,200.00 C323.50,200.67 317.92,204.17 317.00,205.00 C316.08,205.83 313.42,209.25 313.00,210.00 C312.58,210.75 311.75,213.42 312.00,214.00 C312.25,214.58 315.63,216.58 316.00,217.00 C316.37,217.42 316.47,218.27 316.40,219.00 C316.33,219.73 315.23,224.51 315.12,225.74 C315.01,226.97 315.74,232.57 315.12,233.80 C314.50,235.03 308.63,239.38 307.74,240.50 C306.85,241.62 304.84,245.41 304.40,247.20 C303.95,248.99 302.68,259.09 302.40,262.00 C302.12,264.91 301.06,279.53 301.00,282.10 C300.94,284.67 301.75,290.89 301.70,292.80 C301.65,294.71 300.51,303.98 300.40,305.00" stroke="#FFA500" stroke-width="1.35" fill="none" stroke-linejoin="round" stroke-linecap="round"/>
<path d="M300.00,172.50 C300.08,172.79 300.50,175.46 301.00,176.00 C301.50,176.54 305.46,178.58 306.00,179.00 C306.54,179.42 307.46,180.62 307.50,181.00 C307.54,181.38 305.88,183.08 306.50,183.50 C307.12,183.92 313.92,185.62 315.00,186.00 C316.08,186.38 319.17,187.58 319.50,188.00 C319.83,188.42 319.38,190.50 319.00,191.00 C318.62,191.50 315.25,193.50 315.00,194.00 C314.75,194.50 315.71,196.50 316.00,197.00 C316.29,197.50 318.42,199.42 318.50,200.00 C318.58,200.58 317.54,203.17 317.00,204.00 C316.46,204.83 312.83,209.00 312.00,210.00 C311.17,211.00 307.69,215.03 307.00,216.00 C306.31,216.97 304.08,220.11 303.70,221.70 C303.32,223.29 302.51,232.33 302.40,235.12 C302.29,237.91 302.52,251.84 302.40,255.20 C302.28,258.56 301.17,271.25 301.00,275.40 C300.83,279.55 300.45,302.53 300.40,305.00" stroke="#D62027" stroke-width="1.35" fill="none" stroke-linejoin="round" stroke-linecap="round"/>
</g>
<path d="M298.50,172.00V305.30H393.50 M299.98,305.30V306.90 M331.15,305.30V306.90 M362.33,305.30V306.90 M393.50,305.30V306.90 M296.90,172.00H298.50 M296.90,194.22H298.50 M296.90,216.43H298.50 M296.90,238.65H298.50 M296.90,260.87H298.50 M296.90,283.08H298.50 M296.90,305.30H298.50" stroke="#262626" stroke-width="1.35" fill="none" stroke-linecap="square"/>
<text x="299.98" y="320.50" font-size="10.8" fill="#262626" text-anchor="middle">0</text>
<text x="331.15" y="320.50" font-size="10.8" fill="#262626" text-anchor="middle">4</text>
<text x="362.33" y="320.50" font-size="10.8" fill="#262626" text-anchor="middle">8</text>
<text x="393.50" y="320.50" font-size="10.8" fill="#262626" text-anchor="middle">12</text>
<text transform="translate(279.50 175.15) scale(0.914 1)" font-size="11.75" font-weight="bold" fill="#000">(f)</text>
<text x="13.6" y="238.65" font-size="12" fill="#262626" text-anchor="middle" transform="rotate(-90 13.6 238.65)">Depth (m)</text>
<rect x="404" y="171.20" width="11.2" height="26.94" fill="#D62027"/>
<text x="418.4" y="188.42" font-size="11.2" fill="#262626">NA-5 (2011/04)</text>
<rect x="404" y="197.84" width="11.2" height="26.94" fill="#FFA500"/>
<text x="418.4" y="215.06" font-size="11.2" fill="#262626">NA-4 (2012/05)</text>
<rect x="404" y="224.48" width="11.2" height="26.94" fill="#00807C"/>
<text x="418.4" y="241.70" font-size="11.2" fill="#262626">NA-3 (2016/02)</text>
<rect x="404" y="251.12" width="11.2" height="26.94" fill="#2E9AD0"/>
<text x="418.4" y="268.34" font-size="11.2" fill="#262626">NA-2 (2019/05)</text>
<rect x="404" y="277.76" width="11.2" height="26.64" fill="#00008C"/>
<text x="418.4" y="294.98" font-size="11.2" fill="#262626">NA-1 (2022/02)</text>
<path d="M68.85,466.90V333.60 M92.60,466.90V333.60 M116.35,466.90V333.60 M140.10,466.90V333.60" stroke="#e2e2e2" stroke-width="1" stroke-dasharray="5.3,5.3" stroke-dashoffset="7.1" fill="none"/>
<path d="M45.10,333.60H140.10 M45.10,355.82H140.10 M45.10,378.03H140.10 M45.10,400.25H140.10 M45.10,422.47H140.10 M45.10,444.68H140.10" stroke="#e2e2e2" stroke-width="1" stroke-dasharray="5.3,5.3" stroke-dashoffset="6.8" fill="none"/>
<clipPath id="cpg"><rect x="45.10" y="332.60" width="95.50" height="134.30"/></clipPath><g clip-path="url(#cpg)">
<path d="M119.10,332.80 C119.10,335.67 118.95,346.93 119.10,350.00 C119.25,353.07 119.25,350.40 120.00,351.20 C120.75,352.00 122.50,353.50 123.60,354.80 C124.70,356.10 125.60,356.97 126.60,359.00 C127.60,361.03 128.73,363.45 129.60,367.00 C130.47,370.55 131.20,376.15 131.80,380.32 C132.40,384.49 132.80,388.39 133.20,392.00 C133.60,395.61 133.73,398.00 134.20,402.00 C134.67,406.00 135.47,411.00 136.00,416.00 C136.53,421.00 137.07,427.33 137.40,432.00 C137.73,436.67 137.80,438.40 138.00,444.00 C138.20,449.60 138.50,462.00 138.60,465.60" stroke="#2E9AD0" stroke-width="1.35" fill="none" stroke-linejoin="round" stroke-linecap="round"/>
<path d="M119.10,332.80 C119.10,335.67 118.85,346.73 119.10,350.00 C119.35,353.27 119.95,351.40 120.60,352.40 C121.25,353.40 122.30,354.80 123.00,356.00 C123.70,357.20 124.30,358.60 124.80,359.60 C125.30,360.60 125.27,360.63 126.00,362.00 C126.73,363.37 128.23,364.75 129.20,367.80 C130.17,370.85 131.13,376.29 131.80,380.32 C132.47,384.35 132.80,388.39 133.20,392.00 C133.60,395.61 133.73,398.00 134.20,402.00 C134.67,406.00 135.47,411.00 136.00,416.00 C136.53,421.00 137.07,427.33 137.40,432.00 C137.73,436.67 137.80,438.40 138.00,444.00 C138.20,449.60 138.50,462.00 138.60,465.60" stroke="#00807C" stroke-width="1.35" fill="none" stroke-linejoin="round" stroke-linecap="round"/>
<path d="M113.70,332.80 C113.70,335.17 113.48,344.13 113.70,347.00 C113.92,349.87 114.35,349.20 115.00,350.00 C115.65,350.80 116.47,351.00 117.60,351.80 C118.73,352.60 120.40,353.70 121.80,354.80 C123.20,355.90 125.00,357.20 126.00,358.40 C127.00,359.60 126.97,360.00 127.80,362.00 C128.63,364.00 130.20,367.40 131.00,370.40 C131.80,373.40 132.17,376.40 132.60,380.00 C133.03,383.60 133.30,388.33 133.60,392.00 C133.90,395.67 134.00,398.00 134.40,402.00 C134.80,406.00 135.50,411.00 136.00,416.00 C136.50,421.00 137.07,427.33 137.40,432.00 C137.73,436.67 137.80,438.40 138.00,444.00 C138.20,449.60 138.50,462.00 138.60,465.60" stroke="#00008C" stroke-width="1.35" fill="none" stroke-linejoin="round" stroke-linecap="round"/>
<path d="M114.30,332.80 C114.30,334.87 114.05,342.43 114.30,345.20 C114.55,347.97 115.35,347.80 115.80,349.40 C116.25,351.00 116.70,352.70 117.00,354.80 C117.30,356.90 117.07,359.98 117.60,362.00 C118.13,364.02 118.87,364.73 120.20,366.90 C121.53,369.07 124.27,372.47 125.60,375.00 C126.93,377.53 127.30,379.73 128.20,382.10 C129.10,384.47 130.13,386.22 131.00,389.20 C131.87,392.18 132.63,395.53 133.40,400.00 C134.17,404.47 134.97,410.67 135.60,416.00 C136.23,421.33 136.80,427.33 137.20,432.00 C137.60,436.67 137.77,438.40 138.00,444.00 C138.23,449.60 138.50,462.00 138.60,465.60" stroke="#FFA500" stroke-width="1.35" fill="none" stroke-linejoin="round" stroke-linecap="round"/>
<path d="M113.40,332.80 C113.35,335.57 112.90,346.13 113.10,349.40 C113.30,352.67 113.75,351.50 114.60,352.40 C115.45,353.30 117.10,353.70 118.20,354.80 C119.30,355.90 120.50,357.80 121.20,359.00 C121.90,360.20 121.67,360.53 122.40,362.00 C123.13,363.47 124.63,365.33 125.60,367.80 C126.57,370.27 127.30,373.83 128.20,376.80 C129.10,379.77 130.40,383.07 131.00,385.60 C131.60,388.13 131.40,389.27 131.80,392.00 C132.20,394.73 132.77,398.00 133.40,402.00 C134.03,406.00 134.97,411.00 135.60,416.00 C136.23,421.00 136.80,427.33 137.20,432.00 C137.60,436.67 137.77,438.40 138.00,444.00 C138.23,449.60 138.50,462.00 138.60,465.60" stroke="#D62027" stroke-width="1.35" fill="none" stroke-linejoin="round" stroke-linecap="round"/>
</g>
<path d="M45.10,333.60V466.90H140.10 M45.10,466.90V468.50 M68.85,466.90V468.50 M92.60,466.90V468.50 M116.35,466.90V468.50 M140.10,466.90V468.50 M43.50,333.60H45.10 M43.50,355.82H45.10 M43.50,378.03H45.10 M43.50,400.25H45.10 M43.50,422.47H45.10 M43.50,444.68H45.10 M43.50,466.90H45.10" stroke="#262626" stroke-width="1.35" fill="none" stroke-linecap="square"/>
<text x="45.10" y="482.10" font-size="10.8" fill="#262626" text-anchor="middle">27</text>
<text x="68.85" y="482.10" font-size="10.8" fill="#262626" text-anchor="middle">29</text>
<text x="92.60" y="482.10" font-size="10.8" fill="#262626" text-anchor="middle">31</text>
<text x="116.35" y="482.10" font-size="10.8" fill="#262626" text-anchor="middle">33</text>
<text x="140.10" y="482.10" font-size="10.8" fill="#262626" text-anchor="middle">35</text>
<text x="40.30" y="338.30" font-size="10.8" fill="#262626" text-anchor="end">0</text>
<path d="M30.10,335.50H33.60" stroke="#262626" stroke-width="0.95"/>
<text x="40.30" y="360.52" font-size="10.8" fill="#262626" text-anchor="end">50</text>
<path d="M24.09,357.72H27.59" stroke="#262626" stroke-width="0.95"/>
<text x="40.30" y="382.73" font-size="10.8" fill="#262626" text-anchor="end">100</text>
<path d="M18.09,379.93H21.59" stroke="#262626" stroke-width="0.95"/>
<text x="40.30" y="404.95" font-size="10.8" fill="#262626" text-anchor="end">150</text>
<path d="M18.09,402.15H21.59" stroke="#262626" stroke-width="0.95"/>
<text x="40.30" y="427.17" font-size="10.8" fill="#262626" text-anchor="end">200</text>
<path d="M18.09,424.37H21.59" stroke="#262626" stroke-width="0.95"/>
<text x="40.30" y="449.38" font-size="10.8" fill="#262626" text-anchor="end">250</text>
<path d="M18.09,446.58H21.59" stroke="#262626" stroke-width="0.95"/>
<text x="40.30" y="471.60" font-size="10.8" fill="#262626" text-anchor="end">300</text>
<path d="M18.09,468.80H21.59" stroke="#262626" stroke-width="0.95"/>
<text transform="translate(15.20 336.75) scale(0.914 1)" font-size="11.75" font-weight="bold" fill="#000">(g)</text>
<path d="M195.65,466.90V333.60 M219.40,466.90V333.60 M243.15,466.90V333.60 M266.90,466.90V333.60" stroke="#e2e2e2" stroke-width="1" stroke-dasharray="5.3,5.3" stroke-dashoffset="7.1" fill="none"/>
<path d="M171.90,333.60H266.90 M171.90,355.82H266.90 M171.90,378.03H266.90 M171.90,400.25H266.90 M171.90,422.47H266.90 M171.90,444.68H266.90" stroke="#e2e2e2" stroke-width="1" stroke-dasharray="5.3,5.3" stroke-dashoffset="6.8" fill="none"/>
<clipPath id="cph"><rect x="171.90" y="332.60" width="95.50" height="134.30"/></clipPath><g clip-path="url(#cph)">
<path d="M175.60,333.00 C175.60,336.17 175.33,346.83 175.60,352.00 C175.87,357.17 176.63,361.17 177.20,364.00 C177.77,366.83 177.37,366.33 179.00,369.00 C180.63,371.67 184.33,377.17 187.00,380.00 C189.67,382.83 189.67,382.50 195.00,386.00 C200.33,389.50 213.17,396.67 219.00,401.00 C224.83,405.33 226.00,408.17 230.00,412.00 C234.00,415.83 240.40,420.67 243.00,424.00 C245.60,427.33 245.10,428.70 245.60,432.00 C246.10,435.30 245.77,440.55 246.00,443.80 C246.23,447.05 246.60,447.87 247.00,451.50 C247.40,455.13 248.17,463.25 248.40,465.60" stroke="#2E9AD0" stroke-width="1.35" fill="none" stroke-linejoin="round" stroke-linecap="round"/>
<path d="M176.00,333.00 C176.00,336.17 175.73,346.83 176.00,352.00 C176.27,357.17 177.10,361.17 177.60,364.00 C178.10,366.83 177.77,366.67 179.00,369.00 C180.23,371.33 182.33,374.83 185.00,378.00 C187.67,381.17 189.17,383.67 195.00,388.00 C200.83,392.33 214.17,399.67 220.00,404.00 C225.83,408.33 226.50,410.17 230.00,414.00 C233.50,417.83 238.60,423.67 241.00,427.00 C243.40,430.33 243.73,431.20 244.40,434.00 C245.07,436.80 244.73,441.20 245.00,443.80 C245.27,446.40 245.50,447.20 246.00,449.60 C246.50,452.00 247.60,455.53 248.00,458.20 C248.40,460.87 248.33,464.37 248.40,465.60" stroke="#00807C" stroke-width="1.35" fill="none" stroke-linejoin="round" stroke-linecap="round"/>
<path d="M177.00,333.00 C177.00,335.83 176.83,346.17 177.00,350.00 C177.17,353.83 177.75,353.50 178.00,356.00 C178.25,358.50 178.00,362.17 178.50,365.00 C179.00,367.83 179.58,370.33 181.00,373.00 C182.42,375.67 184.67,378.17 187.00,381.00 C189.33,383.83 191.17,387.17 195.00,390.00 C198.83,392.83 205.00,394.67 210.00,398.00 C215.00,401.33 220.83,407.17 225.00,410.00 C229.17,412.83 232.00,413.00 235.00,415.00 C238.00,417.00 241.50,418.83 243.00,422.00 C244.50,425.17 244.00,430.70 244.00,434.00 C244.00,437.30 243.00,439.53 243.00,441.80 C243.00,444.07 243.02,445.98 244.00,447.60 C244.98,449.22 248.08,449.73 248.90,451.50 C249.72,453.27 249.05,455.85 248.90,458.20 C248.75,460.55 248.15,464.37 248.00,465.60" stroke="#00008C" stroke-width="1.35" fill="none" stroke-linejoin="round" stroke-linecap="round"/>
<path d="M176.00,333.00 C176.00,336.17 175.90,347.17 176.00,352.00 C176.10,356.83 176.43,359.83 176.60,362.00 C176.77,364.17 176.43,362.50 177.00,365.00 C177.57,367.50 178.67,373.50 180.00,377.00 C181.33,380.50 183.00,383.50 185.00,386.00 C187.00,388.50 190.33,390.50 192.00,392.00 C193.67,393.50 191.17,392.67 195.00,395.00 C198.83,397.33 209.33,401.83 215.00,406.00 C220.67,410.17 225.77,416.77 229.00,420.00 C232.23,423.23 232.21,423.53 234.40,425.40 C236.59,427.27 240.59,429.43 242.12,431.20 C243.65,432.97 243.45,433.10 243.60,436.00 C243.75,438.90 242.77,444.90 243.00,448.60 C243.23,452.30 244.23,455.37 245.00,458.20 C245.77,461.03 247.17,464.37 247.60,465.60" stroke="#FFA500" stroke-width="1.35" fill="none" stroke-linejoin="round" stroke-linecap="round"/>
<path d="M176.60,333.00 C176.60,336.17 176.43,347.17 176.60,352.00 C176.77,356.83 177.37,359.83 177.60,362.00 C177.83,364.17 177.68,362.83 178.00,365.00 C178.32,367.17 178.50,371.83 179.50,375.00 C180.50,378.17 181.92,381.33 184.00,384.00 C186.08,386.67 190.17,389.33 192.00,391.00 C193.83,392.67 191.17,391.67 195.00,394.00 C198.83,396.33 210.00,401.50 215.00,405.00 C220.00,408.50 221.77,411.30 225.00,415.00 C228.23,418.70 231.70,424.03 234.40,427.20 C237.10,430.37 239.77,432.05 241.20,434.00 C242.63,435.95 242.70,435.67 243.00,438.90 C243.30,442.13 242.83,449.68 243.00,453.40 C243.17,457.12 243.57,459.17 244.00,461.20 C244.43,463.23 245.33,464.87 245.60,465.60" stroke="#D62027" stroke-width="1.35" fill="none" stroke-linejoin="round" stroke-linecap="round"/>
</g>
<path d="M171.90,333.60V466.90H266.90 M171.90,466.90V468.50 M195.65,466.90V468.50 M219.40,466.90V468.50 M243.15,466.90V468.50 M266.90,466.90V468.50 M170.30,333.60H171.90 M170.30,355.82H171.90 M170.30,378.03H171.90 M170.30,400.25H171.90 M170.30,422.47H171.90 M170.30,444.68H171.90 M170.30,466.90H171.90" stroke="#262626" stroke-width="1.35" fill="none" stroke-linecap="square"/>
<path d="M166.80,479.30H170.30" stroke="#262626" stroke-width="0.95"/>
<text x="171.00" y="482.10" font-size="10.8" fill="#262626">2</text>
<path d="M190.55,479.30H194.05" stroke="#262626" stroke-width="0.95"/>
<text x="194.75" y="482.10" font-size="10.8" fill="#262626">1</text>
<text x="219.40" y="482.10" font-size="10.8" fill="#262626" text-anchor="middle">0</text>
<text x="243.15" y="482.10" font-size="10.8" fill="#262626" text-anchor="middle">1</text>
<text x="266.90" y="482.10" font-size="10.8" fill="#262626" text-anchor="middle">2</text>
<text transform="translate(153.20 336.75) scale(0.914 1)" font-size="11.75" font-weight="bold" fill="#000">(h)</text>
<path d="M299.98,466.90V333.60 M331.15,466.90V333.60 M362.33,466.90V333.60 M393.50,466.90V333.60" stroke="#e2e2e2" stroke-width="1" stroke-dasharray="5.3,5.3" stroke-dashoffset="7.1" fill="none"/>
<path d="M298.50,333.60H393.50 M298.50,355.82H393.50 M298.50,378.03H393.50 M298.50,400.25H393.50 M298.50,422.47H393.50 M298.50,444.68H393.50" stroke="#e2e2e2" stroke-width="1" stroke-dasharray="5.3,5.3" stroke-dashoffset="6.8" fill="none"/>
<clipPath id="cpi"><rect x="298.50" y="332.60" width="95.50" height="134.30"/></clipPath><g clip-path="url(#cpi)">
<path d="M300.50,334.00 C300.50,335.33 300.12,348.55 300.50,350.00 C300.88,351.45 304.04,351.23 305.00,351.40 C305.96,351.57 310.71,351.82 312.00,352.00 C313.29,352.18 320.25,353.17 320.50,353.50 C320.75,353.83 316.04,355.54 315.00,356.00 C313.96,356.46 308.75,358.33 308.00,359.00 C307.25,359.67 306.08,362.92 306.00,364.00 C305.92,365.08 307.00,370.50 307.00,372.00 C307.00,373.50 306.33,380.50 306.00,382.00 C305.67,383.50 303.25,388.23 303.00,390.00 C302.75,391.77 303.10,400.45 303.00,403.20 C302.90,405.95 302.00,420.05 301.80,423.00 C301.60,425.95 300.72,435.05 300.60,438.60 C300.48,442.15 300.42,463.35 300.40,465.60" stroke="#2E9AD0" stroke-width="1.35" fill="none" stroke-linejoin="round" stroke-linecap="round"/>
<path d="M300.50,334.00 C300.50,335.25 300.29,347.54 300.50,349.00 C300.71,350.46 302.21,351.08 303.00,351.50 C303.79,351.92 309.12,353.46 310.00,354.00 C310.88,354.54 313.50,357.33 313.50,358.00 C313.50,358.67 310.54,361.33 310.00,362.00 C309.46,362.67 307.33,365.00 307.00,366.00 C306.67,367.00 306.17,372.67 306.00,374.00 C305.83,375.33 305.25,380.67 305.00,382.00 C304.75,383.33 303.20,388.23 303.00,390.00 C302.80,391.77 302.63,400.45 302.60,403.20 C302.57,405.95 302.77,420.05 302.60,423.00 C302.43,425.95 300.78,435.05 300.60,438.60 C300.42,442.15 300.42,463.35 300.40,465.60" stroke="#00807C" stroke-width="1.35" fill="none" stroke-linejoin="round" stroke-linecap="round"/>
<path d="M300.50,334.00 C300.50,334.83 300.29,343.00 300.50,344.00 C300.71,345.00 301.62,345.58 303.00,346.00 C304.38,346.42 315.00,348.46 317.00,349.00 C319.00,349.54 325.96,352.00 327.00,352.50 C328.04,353.00 329.92,354.46 329.50,355.00 C329.08,355.54 323.46,358.33 322.00,359.00 C320.54,359.67 313.33,362.33 312.00,363.00 C310.67,363.67 306.67,366.08 306.00,367.00 C305.33,367.92 304.29,372.75 304.00,374.00 C303.71,375.25 302.65,380.67 302.50,382.00 C302.35,383.33 302.22,388.23 302.20,390.00 C302.18,391.77 302.22,400.45 302.20,403.20 C302.18,405.95 302.13,420.05 302.00,423.00 C301.87,425.95 300.73,435.05 300.60,438.60 C300.47,442.15 300.42,463.35 300.40,465.60" stroke="#00008C" stroke-width="1.35" fill="none" stroke-linejoin="round" stroke-linecap="round"/>
<path d="M300.50,334.00 C300.50,334.50 300.04,338.92 300.50,340.00 C300.96,341.08 305.71,345.75 306.00,347.00 C306.29,348.25 304.08,353.75 304.00,355.00 C303.92,356.25 304.33,360.83 305.00,362.00 C305.67,363.17 311.08,368.08 312.00,369.00 C312.92,369.92 315.83,372.33 316.00,373.00 C316.17,373.67 314.58,376.33 314.00,377.00 C313.42,377.67 309.72,380.33 309.00,381.00 C308.28,381.67 305.93,384.08 305.40,385.00 C304.87,385.92 302.83,389.75 302.60,392.00 C302.37,394.25 302.70,408.67 302.60,412.00 C302.50,415.33 301.57,427.53 301.40,432.00 C301.23,436.47 300.67,462.80 300.60,465.60" stroke="#FFA500" stroke-width="1.35" fill="none" stroke-linejoin="round" stroke-linecap="round"/>
<path d="M300.50,334.00 C300.50,335.17 300.29,346.71 300.50,348.00 C300.71,349.29 301.62,349.21 303.00,349.50 C304.38,349.79 314.83,351.17 317.00,351.50 C319.17,351.83 328.17,353.17 329.00,353.50 C329.83,353.83 328.42,355.12 327.00,355.50 C325.58,355.88 313.58,357.54 312.00,358.00 C310.42,358.46 308.25,360.42 308.00,361.00 C307.75,361.58 308.83,364.42 309.00,365.00 C309.17,365.58 310.17,367.17 310.00,368.00 C309.83,368.83 307.42,373.83 307.00,375.00 C306.58,376.17 305.33,380.75 305.00,382.00 C304.67,383.25 303.20,388.23 303.00,390.00 C302.80,391.77 302.63,400.45 302.60,403.20 C302.57,405.95 302.73,420.05 302.60,423.00 C302.47,425.95 301.17,435.05 301.00,438.60 C300.83,442.15 300.63,463.35 300.60,465.60" stroke="#D62027" stroke-width="1.35" fill="none" stroke-linejoin="round" stroke-linecap="round"/>
</g>
<path d="M298.50,333.60V466.90H393.50 M299.98,466.90V468.50 M331.15,466.90V468.50 M362.33,466.90V468.50 M393.50,466.90V468.50 M296.90,333.60H298.50 M296.90,355.82H298.50 M296.90,378.03H298.50 M296.90,400.25H298.50 M296.90,422.47H298.50 M296.90,444.68H298.50 M296.90,466.90H298.50" stroke="#262626" stroke-width="1.35" fill="none" stroke-linecap="square"/>
<text x="299.98" y="482.10" font-size="10.8" fill="#262626" text-anchor="middle">0</text>
<text x="331.15" y="482.10" font-size="10.8" fill="#262626" text-anchor="middle">4</text>
<text x="362.33" y="482.10" font-size="10.8" fill="#262626" text-anchor="middle">8</text>
<text x="393.50" y="482.10" font-size="10.8" fill="#262626" text-anchor="middle">12</text>
<text transform="translate(279.50 336.75) scale(0.914 1)" font-size="11.75" font-weight="bold" fill="#000">(i)</text>
<text x="13.6" y="400.25" font-size="12" fill="#262626" text-anchor="middle" transform="rotate(-90 13.6 400.25)">Depth (m)</text>
<rect x="404" y="332.80" width="11.2" height="26.94" fill="#D62027"/>
<text x="418.4" y="350.02" font-size="11.2" fill="#262626">AM-5 (2017/05)</text>
<rect x="404" y="359.44" width="11.2" height="26.94" fill="#FFA500"/>
<text x="418.4" y="376.66" font-size="11.2" fill="#262626">AM-4 (2015/04)</text>
<rect x="404" y="386.08" width="11.2" height="26.94" fill="#00807C"/>
<text x="418.4" y="403.30" font-size="11.2" fill="#262626">AM-3 (2013/05)</text>
<rect x="404" y="412.72" width="11.2" height="26.94" fill="#2E9AD0"/>
<text x="418.4" y="429.94" font-size="11.2" fill="#262626">AM-2 (2014/03)</text>
<rect x="404" y="439.36" width="11.2" height="26.64" fill="#00008C"/>
<text x="418.4" y="456.58" font-size="11.2" fill="#262626">AM-1 (2016/03)</text>
<path d="M68.85,628.50V495.20 M92.60,628.50V495.20 M116.35,628.50V495.20 M140.10,628.50V495.20" stroke="#e2e2e2" stroke-width="1" stroke-dasharray="5.3,5.3" stroke-dashoffset="7.1" fill="none"/>
<path d="M45.10,495.20H140.10 M45.10,517.42H140.10 M45.10,539.63H140.10 M45.10,561.85H140.10 M45.10,584.07H140.10 M45.10,606.28H140.10" stroke="#e2e2e2" stroke-width="1" stroke-dasharray="5.3,5.3" stroke-dashoffset="6.8" fill="none"/>
<clipPath id="cpj"><rect x="45.10" y="494.20" width="95.50" height="134.30"/></clipPath><g clip-path="url(#cpj)">
<path d="M127.20,494.80 C127.20,496.67 127.10,502.67 127.20,506.00 C127.30,509.33 127.50,511.13 127.80,514.80 C128.10,518.47 128.30,523.67 129.00,528.00 C129.70,532.33 131.00,536.80 132.00,540.80 C133.00,544.80 134.13,548.33 135.00,552.00 C135.87,555.67 136.70,558.47 137.20,562.80 C137.70,567.13 137.80,572.80 138.00,578.00 C138.20,583.20 138.30,585.73 138.40,594.00 C138.50,602.27 138.57,622.00 138.60,627.60" stroke="#2E9AD0" stroke-width="1.35" fill="none" stroke-linejoin="round" stroke-linecap="round"/>
<path d="M127.20,494.80 C127.20,496.67 127.10,502.67 127.20,506.00 C127.30,509.33 127.61,511.60 127.80,514.80 C127.99,518.00 127.80,521.73 128.32,525.20 C128.84,528.67 129.97,531.27 130.92,535.60 C131.87,539.93 133.05,546.67 134.00,551.20 C134.95,555.73 135.97,558.33 136.60,562.80 C137.23,567.27 137.53,572.80 137.80,578.00 C138.07,583.20 138.10,585.73 138.20,594.00 C138.30,602.27 138.37,622.00 138.40,627.60" stroke="#00807C" stroke-width="1.35" fill="none" stroke-linejoin="round" stroke-linecap="round"/>
<path d="M114.20,494.80 C114.20,496.00 114.10,500.40 114.20,502.00 C114.30,503.60 114.27,502.78 114.80,504.40 C115.33,506.02 115.93,509.61 117.40,511.70 C118.87,513.79 121.87,514.84 123.60,516.92 C125.33,519.00 126.58,521.42 127.80,524.20 C129.02,526.98 130.05,529.97 130.92,533.60 C131.79,537.23 132.13,541.13 133.00,546.00 C133.87,550.87 135.39,557.47 136.12,562.80 C136.85,568.13 137.12,572.80 137.40,578.00 C137.68,583.20 137.70,585.73 137.80,594.00 C137.90,602.27 137.97,622.00 138.00,627.60" stroke="#00008C" stroke-width="1.35" fill="none" stroke-linejoin="round" stroke-linecap="round"/>
<path d="M131.40,494.80 C131.40,498.13 131.40,508.00 131.40,514.80 C131.40,521.60 131.13,529.53 131.40,535.60 C131.67,541.67 132.40,546.67 133.00,551.20 C133.60,555.73 134.33,558.33 135.00,562.80 C135.67,567.27 136.50,572.80 137.00,578.00 C137.50,583.20 137.73,585.73 138.00,594.00 C138.27,602.27 138.50,622.00 138.60,627.60" stroke="#FFA500" stroke-width="1.35" fill="none" stroke-linejoin="round" stroke-linecap="round"/>
<path d="M128.32,494.80 C128.43,496.00 128.57,499.53 129.00,502.00 C129.43,504.47 129.92,506.93 130.92,509.60 C131.92,512.27 133.95,514.87 135.00,518.00 C136.05,521.13 136.67,524.60 137.20,528.40 C137.73,532.20 137.87,535.07 138.20,540.80 C138.53,546.53 139.03,553.93 139.20,562.80 C139.37,571.67 139.20,583.20 139.20,594.00 C139.20,604.80 139.20,622.00 139.20,627.60" stroke="#D62027" stroke-width="1.35" fill="none" stroke-linejoin="round" stroke-linecap="round"/>
</g>
<path d="M45.10,495.20V628.50H140.10 M45.10,628.50V630.10 M68.85,628.50V630.10 M92.60,628.50V630.10 M116.35,628.50V630.10 M140.10,628.50V630.10 M43.50,495.20H45.10 M43.50,517.42H45.10 M43.50,539.63H45.10 M43.50,561.85H45.10 M43.50,584.07H45.10 M43.50,606.28H45.10 M43.50,628.50H45.10" stroke="#262626" stroke-width="1.35" fill="none" stroke-linecap="square"/>
<text x="45.10" y="643.70" font-size="10.8" fill="#262626" text-anchor="middle">27</text>
<text x="68.85" y="643.70" font-size="10.8" fill="#262626" text-anchor="middle">29</text>
<text x="92.60" y="643.70" font-size="10.8" fill="#262626" text-anchor="middle">31</text>
<text x="116.35" y="643.70" font-size="10.8" fill="#262626" text-anchor="middle">33</text>
<text x="140.10" y="643.70" font-size="10.8" fill="#262626" text-anchor="middle">35</text>
<text x="40.30" y="499.90" font-size="10.8" fill="#262626" text-anchor="end">0</text>
<path d="M30.10,497.10H33.60" stroke="#262626" stroke-width="0.95"/>
<text x="40.30" y="522.12" font-size="10.8" fill="#262626" text-anchor="end">50</text>
<path d="M24.09,519.32H27.59" stroke="#262626" stroke-width="0.95"/>
<text x="40.30" y="544.33" font-size="10.8" fill="#262626" text-anchor="end">100</text>
<path d="M18.09,541.53H21.59" stroke="#262626" stroke-width="0.95"/>
<text x="40.30" y="566.55" font-size="10.8" fill="#262626" text-anchor="end">150</text>
<path d="M18.09,563.75H21.59" stroke="#262626" stroke-width="0.95"/>
<text x="40.30" y="588.77" font-size="10.8" fill="#262626" text-anchor="end">200</text>
<path d="M18.09,585.97H21.59" stroke="#262626" stroke-width="0.95"/>
<text x="40.30" y="610.98" font-size="10.8" fill="#262626" text-anchor="end">250</text>
<path d="M18.09,608.18H21.59" stroke="#262626" stroke-width="0.95"/>
<text x="40.30" y="633.20" font-size="10.8" fill="#262626" text-anchor="end">300</text>
<path d="M18.09,630.40H21.59" stroke="#262626" stroke-width="0.95"/>
<text transform="translate(15.20 498.35) scale(0.914 1)" font-size="11.75" font-weight="bold" fill="#000">(j)</text>
<path d="M190.90,628.50V495.20 M209.90,628.50V495.20 M228.90,628.50V495.20 M247.90,628.50V495.20 M266.90,628.50V495.20" stroke="#e2e2e2" stroke-width="1" stroke-dasharray="5.3,5.3" stroke-dashoffset="7.1" fill="none"/>
<path d="M171.90,495.20H266.90 M171.90,517.42H266.90 M171.90,539.63H266.90 M171.90,561.85H266.90 M171.90,584.07H266.90 M171.90,606.28H266.90" stroke="#e2e2e2" stroke-width="1" stroke-dasharray="5.3,5.3" stroke-dashoffset="6.8" fill="none"/>
<clipPath id="cpk"><rect x="171.90" y="494.20" width="95.50" height="134.30"/></clipPath><g clip-path="url(#cpk)">
<path d="M174.90,495.00 C174.90,500.33 174.65,520.50 174.90,527.00 C175.15,533.50 175.58,532.03 176.40,534.00 C177.22,535.97 177.37,537.30 179.80,538.80 C182.23,540.30 185.17,540.90 191.00,543.00 C196.83,545.10 210.10,549.40 214.80,551.40 C219.50,553.40 216.07,553.40 219.20,555.00 C222.33,556.60 230.00,559.00 233.60,561.00 C237.20,563.00 239.33,565.13 240.80,567.00 C242.27,568.87 242.13,570.20 242.40,572.20 C242.67,574.20 242.07,576.87 242.40,579.00 C242.73,581.13 244.47,581.60 244.40,585.00 C244.33,588.40 241.80,595.60 242.00,599.40 C242.20,603.20 245.60,603.60 245.60,607.80 C245.60,612.00 242.70,621.30 242.00,624.60 C241.30,627.90 241.50,627.10 241.40,627.60" stroke="#2E9AD0" stroke-width="1.35" fill="none" stroke-linejoin="round" stroke-linecap="round"/>
<path d="M174.90,495.00 C174.90,499.83 174.72,518.73 174.90,524.00 C175.08,529.27 175.42,525.67 176.00,526.60 C176.58,527.53 177.07,527.10 178.40,529.60 C179.73,532.10 181.67,538.20 184.00,541.60 C186.33,545.00 189.73,547.57 192.40,550.00 C195.07,552.43 195.73,552.57 200.00,556.20 C204.27,559.83 213.20,567.60 218.00,571.80 C222.80,576.00 226.20,578.90 228.80,581.40 C231.40,583.90 233.20,583.20 233.60,586.80 C234.00,590.40 231.00,598.50 231.20,603.00 C231.40,607.50 234.60,609.70 234.80,613.80 C235.00,617.90 232.80,625.30 232.40,627.60" stroke="#00807C" stroke-width="1.35" fill="none" stroke-linejoin="round" stroke-linecap="round"/>
<path d="M175.60,495.00 C175.60,497.17 175.13,505.25 175.60,508.00 C176.07,510.75 176.77,509.40 178.40,511.50 C180.03,513.60 183.77,517.92 185.40,520.60 C187.03,523.28 187.62,525.27 188.20,527.60 C188.78,529.93 187.50,532.03 188.90,534.60 C190.30,537.17 194.62,539.97 196.60,543.00 C198.58,546.03 199.28,550.70 200.80,552.80 C202.32,554.90 204.73,553.23 205.70,555.60 C206.67,557.97 205.75,564.10 206.60,567.00 C207.45,569.90 209.30,570.20 210.80,573.00 C212.30,575.80 213.80,580.20 215.60,583.80 C217.40,587.40 220.40,591.40 221.60,594.60 C222.80,597.80 222.20,599.60 222.80,603.00 C223.40,606.40 225.00,610.90 225.20,615.00 C225.40,619.10 224.20,625.50 224.00,627.60" stroke="#00008C" stroke-width="1.35" fill="none" stroke-linejoin="round" stroke-linecap="round"/>
<path d="M174.20,495.00 C174.20,502.33 174.13,530.83 174.20,539.00 C174.27,547.17 174.25,542.63 174.60,544.00 C174.95,545.37 175.23,546.13 176.30,547.20 C177.37,548.27 179.25,549.47 181.00,550.40 C182.75,551.33 183.97,551.47 186.80,552.80 C189.63,554.13 195.80,557.23 198.00,558.40 C200.20,559.57 197.67,558.17 200.00,559.80 C202.33,561.43 208.00,565.40 212.00,568.20 C216.00,571.00 220.40,573.80 224.00,576.60 C227.60,579.40 231.40,582.40 233.60,585.00 C235.80,587.60 236.50,588.60 237.20,592.20 C237.90,595.80 237.40,600.70 237.80,606.60 C238.20,612.50 239.30,624.10 239.60,627.60" stroke="#FFA500" stroke-width="1.35" fill="none" stroke-linejoin="round" stroke-linecap="round"/>
<path d="M177.00,495.00 C177.12,496.00 177.00,499.30 177.70,501.00 C178.40,502.70 180.27,503.80 181.20,505.20 C182.13,506.60 182.60,508.35 183.30,509.40 C184.00,510.45 182.95,510.68 185.40,511.50 C187.85,512.32 193.90,513.52 198.00,514.30 C202.10,515.08 205.20,515.15 210.00,516.20 C214.80,517.25 221.80,518.47 226.80,520.60 C231.80,522.73 236.80,526.40 240.00,529.00 C243.20,531.60 243.80,534.20 246.00,536.20 C248.20,538.20 251.60,539.40 253.20,541.00 C254.80,542.60 254.60,542.80 255.60,545.80 C256.60,548.80 258.20,553.80 259.20,559.00 C260.20,564.20 261.30,571.83 261.60,577.00 C261.90,582.17 261.60,584.50 261.00,590.00 C260.40,595.50 259.17,603.73 258.00,610.00 C256.83,616.27 254.67,624.67 254.00,627.60" stroke="#D62027" stroke-width="1.35" fill="none" stroke-linejoin="round" stroke-linecap="round"/>
</g>
<path d="M171.90,495.20V628.50H266.90 M171.90,628.50V630.10 M190.90,628.50V630.10 M209.90,628.50V630.10 M228.90,628.50V630.10 M247.90,628.50V630.10 M266.90,628.50V630.10 M170.30,495.20H171.90 M170.30,517.42H171.90 M170.30,539.63H171.90 M170.30,561.85H171.90 M170.30,584.07H171.90 M170.30,606.28H171.90 M170.30,628.50H171.90" stroke="#262626" stroke-width="1.35" fill="none" stroke-linecap="square"/>
<path d="M166.80,640.90H170.30" stroke="#262626" stroke-width="0.95"/>
<text x="171.00" y="643.70" font-size="10.8" fill="#262626">2</text>
<path d="M185.80,640.90H189.30" stroke="#262626" stroke-width="0.95"/>
<text x="190.00" y="643.70" font-size="10.8" fill="#262626">1</text>
<text x="209.90" y="643.70" font-size="10.8" fill="#262626" text-anchor="middle">0</text>
<text x="228.90" y="643.70" font-size="10.8" fill="#262626" text-anchor="middle">1</text>
<text x="247.90" y="643.70" font-size="10.8" fill="#262626" text-anchor="middle">2</text>
<text x="266.90" y="643.70" font-size="10.8" fill="#262626" text-anchor="middle">3</text>
<text transform="translate(153.20 498.35) scale(0.914 1)" font-size="11.75" font-weight="bold" fill="#000">(k)</text>
<path d="M299.98,628.50V495.20 M331.15,628.50V495.20 M362.33,628.50V495.20 M393.50,628.50V495.20" stroke="#e2e2e2" stroke-width="1" stroke-dasharray="5.3,5.3" stroke-dashoffset="7.1" fill="none"/>
<path d="M298.50,495.20H393.50 M298.50,517.42H393.50 M298.50,539.63H393.50 M298.50,561.85H393.50 M298.50,584.07H393.50 M298.50,606.28H393.50" stroke="#e2e2e2" stroke-width="1" stroke-dasharray="5.3,5.3" stroke-dashoffset="6.8" fill="none"/>
<clipPath id="cpl"><rect x="298.50" y="494.20" width="95.50" height="134.30"/></clipPath><g clip-path="url(#cpl)">
<path d="M300.40,495.56 C300.42,497.93 300.52,520.30 300.60,524.00 C300.68,527.70 301.28,537.67 301.40,540.00 C301.52,542.33 301.85,550.62 302.00,552.00 C302.15,553.38 303.26,555.10 303.26,556.60 C303.26,558.10 302.12,567.55 302.00,570.00 C301.88,572.45 301.88,583.17 301.80,586.00 C301.72,588.83 301.10,600.53 301.00,604.00 C300.90,607.47 300.63,625.63 300.60,627.60" stroke="#2E9AD0" stroke-width="1.35" fill="none" stroke-linejoin="round" stroke-linecap="round"/>
<path d="M300.60,495.56 C300.60,497.51 300.38,516.61 300.60,519.00 C300.82,521.39 302.60,523.50 303.26,524.20 C303.92,524.90 308.39,526.62 308.48,527.40 C308.57,528.18 304.82,532.47 304.30,533.60 C303.78,534.73 302.46,539.43 302.20,541.00 C301.94,542.57 301.31,550.48 301.18,552.40 C301.05,554.32 300.62,561.37 300.60,564.00 C300.59,566.63 301.00,580.67 301.00,584.00 C301.00,587.33 300.65,600.37 300.60,604.00 C300.55,607.63 300.42,625.63 300.40,627.60" stroke="#00807C" stroke-width="1.35" fill="none" stroke-linejoin="round" stroke-linecap="round"/>
<path d="M300.14,495.56 C300.27,496.04 301.26,500.39 301.70,501.30 C302.13,502.21 304.45,505.87 305.36,506.52 C306.27,507.17 310.92,508.67 312.66,509.14 C314.40,509.61 325.50,511.73 326.20,512.20 C326.89,512.67 321.87,514.23 321.00,514.80 C320.13,515.37 316.76,518.38 315.80,519.00 C314.84,519.62 309.87,521.58 309.52,522.20 C309.17,522.82 311.86,525.62 311.60,526.40 C311.34,527.18 307.01,530.82 306.40,531.60 C305.79,532.38 304.39,535.28 304.30,535.80 C304.21,536.32 305.45,537.20 305.36,537.80 C305.27,538.40 303.52,542.13 303.26,543.00 C303.00,543.87 302.33,547.07 302.20,548.20 C302.07,549.33 301.78,555.28 301.70,556.60 C301.62,557.92 301.24,561.72 301.18,564.00 C301.12,566.28 301.03,580.67 301.00,584.00 C300.97,587.33 300.83,600.37 300.80,604.00 C300.77,607.63 300.62,625.63 300.60,627.60" stroke="#00008C" stroke-width="1.35" fill="none" stroke-linejoin="round" stroke-linecap="round"/>
<path d="M300.20,495.56 C300.22,497.93 300.33,520.80 300.40,524.00 C300.47,527.20 300.89,532.15 301.00,534.00 C301.11,535.85 301.56,544.67 301.70,546.20 C301.84,547.73 302.73,550.92 302.74,552.40 C302.75,553.88 301.91,561.37 301.80,564.00 C301.69,566.63 301.47,580.67 301.40,584.00 C301.33,587.33 301.07,600.37 301.00,604.00 C300.93,607.63 300.63,625.63 300.60,627.60" stroke="#FFA500" stroke-width="1.35" fill="none" stroke-linejoin="round" stroke-linecap="round"/>
<path d="M300.14,495.56 C300.23,495.78 300.66,497.63 301.18,498.20 C301.70,498.77 306.14,501.67 306.40,502.36 C306.66,503.05 304.22,505.65 304.30,506.52 C304.38,507.39 307.22,511.76 307.40,512.80 C307.57,513.84 306.83,518.13 306.40,519.00 C305.97,519.87 302.63,522.15 302.20,523.20 C301.76,524.25 301.22,530.03 301.18,531.60 C301.14,533.17 301.70,540.27 301.70,542.00 C301.70,543.73 301.27,550.57 301.18,552.40 C301.09,554.23 300.67,561.37 300.60,564.00 C300.54,566.63 300.43,580.67 300.40,584.00 C300.37,587.33 300.22,600.37 300.20,604.00 C300.18,607.63 300.20,625.63 300.20,627.60" stroke="#D62027" stroke-width="1.35" fill="none" stroke-linejoin="round" stroke-linecap="round"/>
</g>
<path d="M298.50,495.20V628.50H393.50 M299.98,628.50V630.10 M331.15,628.50V630.10 M362.33,628.50V630.10 M393.50,628.50V630.10 M296.90,495.20H298.50 M296.90,517.42H298.50 M296.90,539.63H298.50 M296.90,561.85H298.50 M296.90,584.07H298.50 M296.90,606.28H298.50 M296.90,628.50H298.50" stroke="#262626" stroke-width="1.35" fill="none" stroke-linecap="square"/>
<text x="299.98" y="643.70" font-size="10.8" fill="#262626" text-anchor="middle">0</text>
<text x="331.15" y="643.70" font-size="10.8" fill="#262626" text-anchor="middle">4</text>
<text x="362.33" y="643.70" font-size="10.8" fill="#262626" text-anchor="middle">8</text>
<text x="393.50" y="643.70" font-size="10.8" fill="#262626" text-anchor="middle">12</text>
<text transform="translate(279.50 498.35) scale(0.914 1)" font-size="11.75" font-weight="bold" fill="#000">(l)</text>
<text x="13.6" y="561.85" font-size="12" fill="#262626" text-anchor="middle" transform="rotate(-90 13.6 561.85)">Depth (m)</text>
<rect x="404" y="494.40" width="11.2" height="26.94" fill="#D62027"/>
<text x="418.4" y="511.62" font-size="11.2" fill="#262626">NS-5 (2022/05)</text>
<rect x="404" y="521.04" width="11.2" height="26.94" fill="#FFA500"/>
<text x="418.4" y="538.26" font-size="11.2" fill="#262626">NS-4 (2020/05)</text>
<rect x="404" y="547.68" width="11.2" height="26.94" fill="#00807C"/>
<text x="418.4" y="564.90" font-size="11.2" fill="#262626">NS-3 (2020/03)</text>
<rect x="404" y="574.32" width="11.2" height="26.94" fill="#2E9AD0"/>
<text x="418.4" y="591.54" font-size="11.2" fill="#262626">NS-2 (2014/05)</text>
<rect x="404" y="600.96" width="11.2" height="26.64" fill="#00008C"/>
<text x="418.4" y="618.18" font-size="11.2" fill="#262626">NS-1 (2023/03)</text>
<text x="92.5" y="662.6" font-size="12" fill="#262626" text-anchor="middle" xml:space="preserve">Salinity  (psu)</text>
<text x="219.5" y="662.6" font-size="12" fill="#262626" text-anchor="middle" xml:space="preserve">Temperature  (°C)</text>
<text x="346.3" y="662.8" font-size="12" fill="#262626" text-anchor="middle" xml:space="preserve">N<tspan font-size="8.5" dy="-5.6">2</tspan><tspan dy="5.6"> (10</tspan><tspan font-size="8.5" dy="-5.6">-4</tspan><tspan dy="5.6"> Hz</tspan><tspan font-size="8.5" dy="-5.6">2</tspan><tspan dy="5.6">)</tspan></text>
</svg></body></html>
